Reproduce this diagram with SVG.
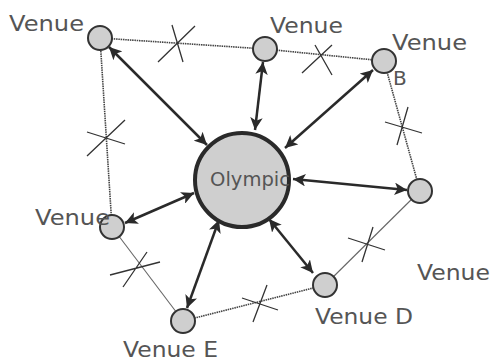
<svg xmlns="http://www.w3.org/2000/svg" width="492" height="362" viewBox="0 0 492 362">
<defs>
<marker id="ah" viewBox="0 0 10 10" refX="10" refY="5" markerWidth="5" markerHeight="5" markerUnits="strokeWidth" orient="auto-start-reverse">
<path d="M0,0 L10,5 L0,10 L2.5,5 Z" fill="#2a2a2a"/>
</marker>
</defs>
<style>
.lbl{font-family:"DejaVu Sans","Liberation Sans",sans-serif;font-size:21px;fill:#555}
.venue{fill:#cfcfcf;stroke:#333;stroke-width:2}
.dot{fill:none;stroke:#444;stroke-width:1.6;stroke-dasharray:1.5 0.8}
.thin{fill:none;stroke:#666;stroke-width:1.1}
.arr{fill:none;stroke:#2a2a2a;stroke-width:2.5;marker-start:url(#ah);marker-end:url(#ah)}
.x{fill:none;stroke:#333;stroke-width:1.3}
</style>
<rect width="492" height="362" fill="#fff"/>
<g id="connectors">
<line class="dot" x1="100" y1="38" x2="265" y2="49"/>
<line class="dot" x1="265" y1="49" x2="384" y2="61"/>
<line class="dot" x1="384" y1="61" x2="420" y2="191"/>
<line class="thin" x1="420" y1="191" x2="325" y2="285"/>
<line class="dot" x1="325" y1="285" x2="183" y2="321"/>
<line class="thin" x1="183" y1="321" x2="112" y2="227"/>
<line class="dot" x1="112" y1="227" x2="100" y2="38"/>
<g class="x">
<path d="M158,62 L195,26 M172,25 L183,62"/>
<path d="M302,73 L332,45 M315,45 L332,75"/>
<path d="M385,122 L422,133 M408,107 L397,145"/>
<path d="M87,156 L125,120 M87,132 L125,144"/>
<path d="M110,275 L160,262 M123,287 L147,252"/>
<path d="M253,322 L267,285 M242,298 L278,310"/>
<path d="M348,238 L385,250 M373,227 L362,262"/>
</g>
<line class="arr" x1="109" y1="47" x2="207" y2="145"/>
<line class="arr" x1="263" y1="62" x2="255" y2="130"/>
<line class="arr" x1="373" y1="70" x2="285" y2="148"/>
<line class="arr" x1="293" y1="179" x2="407" y2="190"/>
<line class="arr" x1="125" y1="223" x2="194" y2="193"/>
<line class="arr" x1="187" y1="308" x2="219" y2="220"/>
<line class="arr" x1="313" y1="273" x2="269" y2="219"/>
</g>
<g id="olympic">
<circle cx="242" cy="180" r="47" fill="#cfcfcf" stroke="#2a2a2a" stroke-width="4"/>
<text class="lbl" x="210" y="186" textLength="80" lengthAdjust="spacingAndGlyphs" style="font-size:19px">Olympic</text>
</g>
<g id="venue-tl">
<circle class="venue" cx="100" cy="38" r="12"/>
<text class="lbl" x="9" y="31" textLength="75" lengthAdjust="spacingAndGlyphs">Venue</text>
</g>
<g id="venue-tm">
<circle class="venue" cx="265" cy="49" r="12"/>
<text class="lbl" x="270" y="33" textLength="73" lengthAdjust="spacingAndGlyphs">Venue</text>
</g>
<g id="venue-b">
<circle class="venue" cx="384" cy="61" r="12"/>
<text class="lbl" x="392" y="50" textLength="75" lengthAdjust="spacingAndGlyphs">Venue</text>
<text class="lbl" x="393" y="85" style="font-size:20px">B</text>
</g>
<g id="venue-r">
<circle class="venue" cx="420" cy="191" r="12"/>
<text class="lbl" x="417" y="280" textLength="73" lengthAdjust="spacingAndGlyphs">Venue</text>
</g>
<g id="venue-d">
<circle class="venue" cx="325" cy="285" r="12"/>
<text class="lbl" x="315" y="324" textLength="98" lengthAdjust="spacingAndGlyphs">Venue D</text>
</g>
<g id="venue-e">
<circle class="venue" cx="183" cy="321" r="12"/>
<text class="lbl" x="123" y="357" textLength="95" lengthAdjust="spacingAndGlyphs">Venue E</text>
</g>
<g id="venue-l">
<circle class="venue" cx="112" cy="227" r="12"/>
<text class="lbl" x="35" y="225" textLength="75" lengthAdjust="spacingAndGlyphs">Venue</text>
</g>
</svg>
